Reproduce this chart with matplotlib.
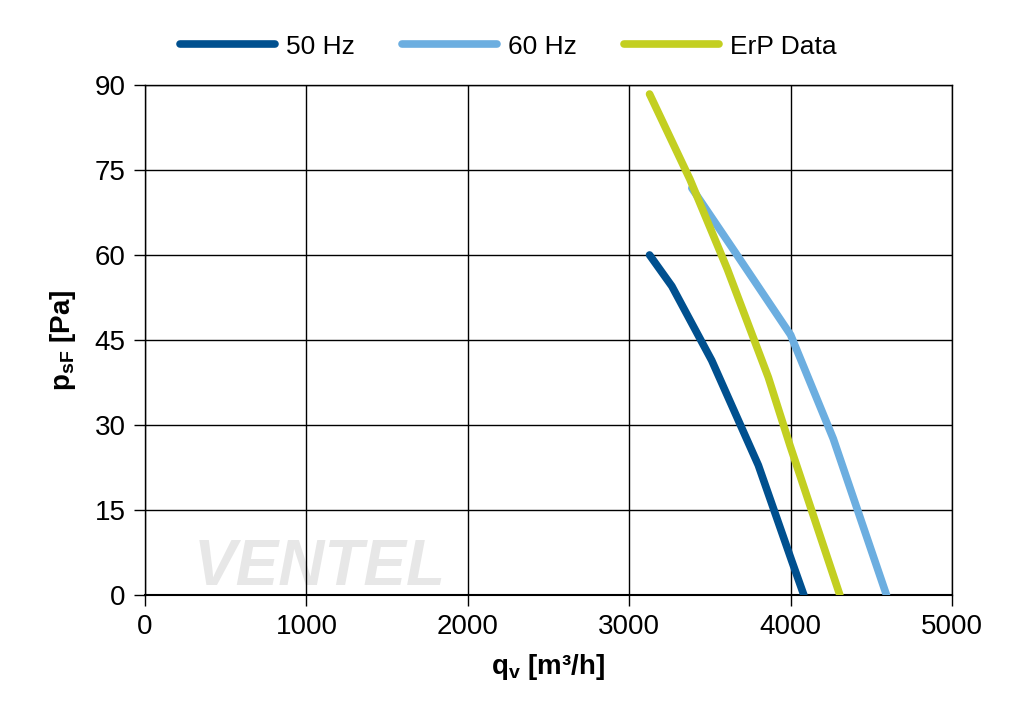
import matplotlib
matplotlib.use("Agg")
import matplotlib.pyplot as plt

plt.rcParams['font.family'] = ['Liberation Sans', 'DejaVu Sans']

# Data
q_50 = [3126, 3264, 3511, 3800, 4006, 4082]
p_50 = [60.0, 54.5, 41.4, 22.9, 6.1, 0.0]
q_60 = [3388, 3656, 4000, 4264, 4594]
p_60 = [71.8, 60.5, 45.9, 27.6, 0.0]
q_erp = [3126, 3377, 3608, 3862, 3996, 4305]
p_erp = [88.4, 73.3, 57.5, 38.4, 26.4, 0.0]
labels = ["50 Hz", "60 Hz", "ErP Data"]
colors = ["#00508F", "#6CAEE0", "#C3CF21"]
x_ticks = [0, 1000, 2000, 3000, 4000, 5000]
y_ticks = [0, 15, 30, 45, 60, 75, 90]

fig = plt.figure(figsize=(10.17, 7.2), dpi=100)
ax = fig.add_axes([0.1426, 0.1736, 0.7935, 0.7084])

for q, p, c, lab in zip([q_50, q_60, q_erp], [p_50, p_60, p_erp], colors, labels):
    ax.plot(q, p, color=c, lw=5.5, solid_capstyle='round', solid_joinstyle='round', label=lab, zorder=3)

ax.set_xlim(0, 5000)
ax.set_ylim(0, 90)
ax.set_xticks(x_ticks)
ax.set_yticks(y_ticks)
ax.grid(True, color='black', lw=1.0, zorder=0)
for s in ax.spines.values():
    s.set_color('black')
    s.set_linewidth(1.0)
ax.spines['bottom'].set_linewidth(1.5)
ax.tick_params(axis='both', labelsize=20, length=8, width=1.0, direction='out', pad=6)

ax.set_xlabel(r"q$_\mathregular{v}$ [m³/h]", fontsize=20, fontweight='bold', labelpad=8)
ax.set_ylabel(r"p$_\mathregular{sF}$ [Pa]", fontsize=20, fontweight='bold', labelpad=12)

ax.text(0.06, 0.02, "VENTEL", transform=ax.transAxes, fontsize=46, fontweight='bold',
        fontstyle='italic', color='#bbbbbb', alpha=0.35, zorder=1)

fig.legend(loc='upper center', bbox_to_anchor=(0.5, 0.985), ncol=3, frameon=False,
           fontsize=19, handlelength=3.6, columnspacing=1.8, handletextpad=0.4)

fig.savefig("out.png", dpi=100)
